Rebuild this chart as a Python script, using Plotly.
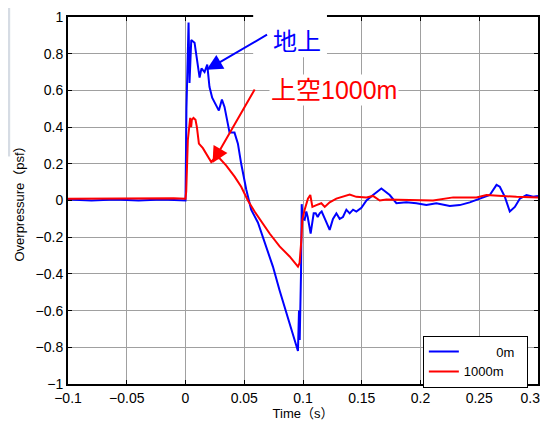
import plotly.graph_objects as go

# ---- data ----
t_0m = [-0.1, -0.08, -0.06, -0.04, -0.02, 0.0, 0.0008, 0.0026, 0.0034, 0.0049, 0.0077, 0.0092,
        0.012, 0.0136, 0.0162, 0.0185, 0.0204, 0.0227, 0.0261, 0.0284, 0.031, 0.0332, 0.0375,
        0.0417, 0.0446, 0.0474, 0.0517, 0.0559, 0.0616, 0.0687, 0.0744, 0.0801, 0.0858, 0.0915,
        0.0957, 0.0966, 0.0972, 0.0983, 0.0989, 0.0997, 0.1014, 0.1028, 0.104, 0.1065, 0.1091,
        0.1108, 0.1125, 0.1142, 0.1159, 0.1193, 0.1227, 0.1255, 0.1284, 0.1312, 0.134, 0.1369,
        0.1397, 0.1426, 0.1454, 0.1497, 0.154, 0.1596, 0.1667, 0.1738, 0.1795, 0.188, 0.1965,
        0.205, 0.2135, 0.2249, 0.2334, 0.2419, 0.2505, 0.259, 0.2647, 0.2675, 0.2718, 0.276,
        0.2803, 0.2845, 0.2902, 0.2959, 0.3]
p_0m = [0.005, 0.0, 0.005, 0.0, 0.005, 0.0, 0.5, 0.97, 0.64, 0.875, 0.86, 0.80,
        0.67, 0.72, 0.70, 0.74, 0.62, 0.56, 0.52, 0.49, 0.55, 0.51, 0.37,
        0.37, 0.31, 0.20, 0.06, -0.05, -0.12, -0.25, -0.36, -0.49, -0.615, -0.74,
        -0.82, -0.60, -0.76, -0.40, -0.02, -0.10, -0.105, -0.06, -0.09, -0.18, -0.07,
        -0.07, -0.09, -0.07, -0.06, -0.11, -0.16, -0.10, -0.07, -0.10, -0.09, -0.05,
        -0.07, -0.05, -0.06, -0.04, 0.0, 0.03, 0.065, 0.03, -0.015, -0.01, -0.015,
        -0.025, -0.015, -0.03, -0.025, -0.01, 0.01, 0.03, 0.085, 0.075, 0.02, -0.06,
        -0.035, 0.01, 0.03, 0.02, 0.025]

t_1000m = [-0.1, -0.07, -0.04, -0.01, 0.0, 0.0006, 0.002, 0.004, 0.0048, 0.0054, 0.0068, 0.0085,
           0.0097, 0.0114, 0.0148, 0.0176, 0.0219, 0.0247, 0.029, 0.0347, 0.0418, 0.0474,
           0.0531, 0.0588, 0.0645, 0.0716, 0.0801, 0.0886, 0.0957, 0.0971, 0.0986, 0.0994,
           0.1014, 0.1042, 0.1062, 0.108, 0.1114, 0.1156, 0.1185, 0.1227, 0.1284, 0.134,
           0.1397, 0.1454, 0.154, 0.1596, 0.1653, 0.171, 0.1838, 0.2107, 0.2278, 0.2476,
           0.2562, 0.2675, 0.2817, 0.3]
p_1000m = [0.01, 0.012, 0.01, 0.012, 0.01, 0.05, 0.33, 0.45, 0.40, 0.44, 0.45, 0.44,
           0.40, 0.31, 0.285, 0.257, 0.21, 0.23, 0.23, 0.19, 0.13, 0.075,
           0.0, -0.06, -0.115, -0.18, -0.25, -0.305, -0.36, -0.34, -0.215, -0.105,
           -0.05, 0.01, 0.03, -0.035, -0.025, -0.015, -0.035, -0.01, 0.01, 0.02,
           0.033, 0.02, 0.017, 0.025, 0.0, 0.006, 0.005, 0.0, 0.017, 0.017,
           0.03, 0.025, 0.02, 0.017]

x_ticks = [-0.1, -0.05, 0, 0.05, 0.1, 0.15, 0.2, 0.25, 0.3]
# the last label carries trailing non-breaking spaces so it stays inside the page
x_tick_labels = ["\u22120.1", "\u22120.05", "0", "0.05", "0.1", "0.15", "0.2", "0.25",
                 "0.3\u00a0\u00a0\u00a0\u00a0"]
y_ticks = [-1, -0.8, -0.6, -0.4, -0.2, 0, 0.2, 0.4, 0.6, 0.8, 1]
y_tick_labels = ["\u22121", "\u22120.8", "\u22120.6", "\u22120.4", "\u22120.2", "0",
                 "0.2", "0.4", "0.6", "0.8", "1"]

FONT = "Liberation Sans, Arial, Noto Sans CJK JP, sans-serif"

fig = go.Figure()
fig.add_trace(go.Scatter(x=t_0m, y=p_0m, mode="lines",
                         name="\u00a0\u00a0\u00a0\u00a0\u00a0\u00a0\u00a0\u00a0\u00a00m\u00a0\u00a0",
                         line=dict(color="#0000ff", width=2)))
fig.add_trace(go.Scatter(x=t_1000m, y=p_1000m, mode="lines", name="1000m\u00a0\u00a0",
                         line=dict(color="#ff0000", width=2)))

axis_common = dict(showline=True, linecolor="black", linewidth=2, mirror="allticks",
                   ticks="inside", ticklen=4, tickcolor="black", showgrid=True,
                   gridcolor="#a0a0a0", gridwidth=1, zeroline=False, automargin=False,
                   ticklabeloverflow="allow",
                   tickfont=dict(family=FONT, size=14, color="black"))

fig.update_xaxes(range=[-0.1, 0.3], tickvals=x_ticks, ticktext=x_tick_labels,
                 title=dict(text="Time\uff08s\uff09", font=dict(family=FONT, size=13, color="black"), standoff=6),
                 **axis_common)
fig.update_yaxes(range=[-1, 1], tickvals=y_ticks, ticktext=y_tick_labels,
                 title=dict(text="Overpressure\uff08psf\uff09", font=dict(family=FONT, size=13, color="black"), standoff=8),
                 **axis_common)

# page body adds an 8px margin, so the figure is sized to fit inside the window
fig.update_layout(
    width=540, height=413,
    margin=dict(l=60, r=10, t=9, b=37),
    paper_bgcolor="white", plot_bgcolor="white",
    font=dict(family=FONT, size=13, color="black"),
    legend=dict(x=0.755, y=0.132, xanchor="left", yanchor="top",
                bgcolor="white", bordercolor="black", borderwidth=1,
                font=dict(family=FONT, size=13, color="black"),
                tracegroupgap=0, itemwidth=30),
    shapes=[
        dict(type="rect", xref="paper", yref="paper", x0=-0.128, x1=-0.123, y0=0.62, y1=1.03,
             fillcolor="#d6dce4", line=dict(width=0), layer="below"),
        dict(type="rect", xref="paper", yref="paper", x0=0.394, x1=0.551, y0=0.89, y1=1.03,
             fillcolor="white", line=dict(width=0), layer="above"),
    ],
    annotations=[
        dict(x=0.0179, y=0.712, xref="x", yref="y", ax=62, ay=-36, text="", showarrow=True,
             arrowhead=2, arrowsize=1.6, arrowwidth=2, arrowcolor="#0000ff"),
        dict(x=0.023, y=0.205, xref="x", yref="y", ax=43, ay=-75, text="", showarrow=True,
             arrowhead=2, arrowsize=1.6, arrowwidth=2, arrowcolor="#ff0000"),
        dict(x=0.487, y=0.932, xref="paper", yref="paper", text="地上", showarrow=False,
             font=dict(family=FONT, size=24, color="#0000ff"), xanchor="center", yanchor="middle"),
        dict(x=0.566, y=0.801, xref="paper", yref="paper", text="上空1000m", showarrow=False,
             bgcolor="white", borderpad=1,
             font=dict(family=FONT, size=25, color="#ff0000"), xanchor="center", yanchor="middle"),
    ],
)

fig.write_html("out.html")
